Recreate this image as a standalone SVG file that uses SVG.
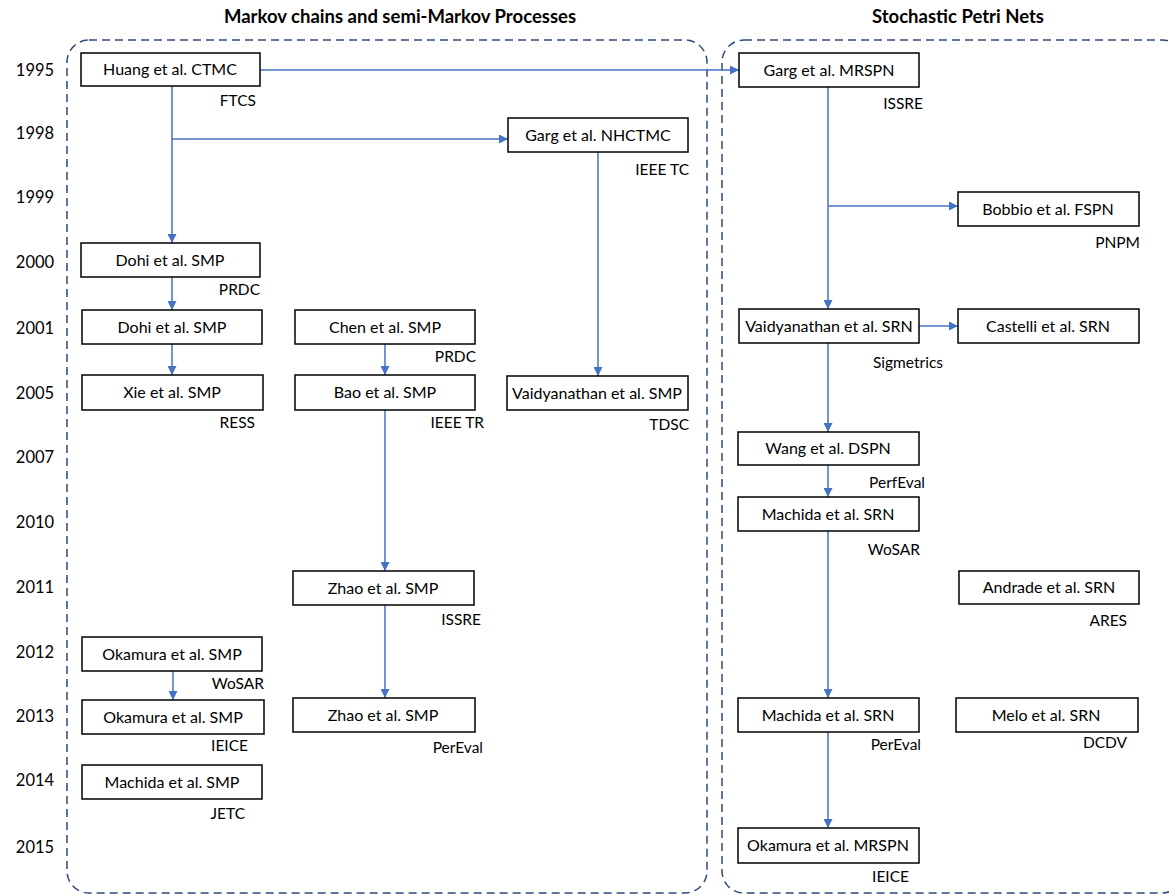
<svg xmlns="http://www.w3.org/2000/svg" width="1169" height="895" viewBox="0 0 1169 895">
  <style>
    .frame { fill: none; stroke: #2F4A7A; stroke-width: 1.5; stroke-dasharray: 8 5; }
    .title { font-family: Lato, "Liberation Sans", sans-serif; font-size: 18.5px; font-weight: bold; fill: #000; text-anchor: middle; }
    .year { font-family: Lato, "Liberation Sans", sans-serif; font-size: 16.5px; fill: #000; text-anchor: middle; }
    .box { fill: #fff; stroke: #000; stroke-width: 1.5; }
    .label { font-family: Lato, "Liberation Sans", sans-serif; font-size: 16px; fill: #000; text-anchor: middle; }
    .venue { font-family: Lato, "Liberation Sans", sans-serif; font-size: 15.5px; fill: #000; text-anchor: end; }
    .edge { fill: none; stroke: #4472C4; stroke-width: 1.5; }
    .edge-arrow { marker-end: url(#arrow); }
  </style>
  <defs>
    <marker id="arrow" viewBox="0 0 10 10" refX="10" refY="5" markerWidth="9" markerHeight="9" markerUnits="userSpaceOnUse" orient="auto">
      <path d="M0,0 L10,5 L0,10 z" fill="#4472C4"/>
    </marker>
  </defs>

  <rect width="1169" height="895" fill="#fff"/>

  <!-- Section headings -->
  <text class="title" x="400" y="23">Markov chains and semi-Markov Processes</text>
  <text class="title" x="958" y="23">Stochastic Petri Nets</text>

  <!-- Section frames -->
  <rect class="frame" x="67" y="40" width="640" height="853" rx="22" ry="22"/>
  <rect class="frame" x="722" y="40" width="462" height="853" rx="22" ry="22"/>

  <!-- Year axis -->
  <g id="years">
    <text class="year" x="35" y="76">1995</text>
    <text class="year" x="35" y="139">1998</text>
    <text class="year" x="35" y="203">1999</text>
    <text class="year" x="35" y="268">2000</text>
    <text class="year" x="35" y="334">2001</text>
    <text class="year" x="35" y="399">2005</text>
    <text class="year" x="35" y="463">2007</text>
    <text class="year" x="35" y="528">2010</text>
    <text class="year" x="35" y="593">2011</text>
    <text class="year" x="35" y="658">2012</text>
    <text class="year" x="35" y="722">2013</text>
    <text class="year" x="35" y="786">2014</text>
    <text class="year" x="35" y="853">2015</text>
  </g>

  <!-- Connectors -->
  <g id="connectors">
    <path class="edge edge-arrow" d="M260,70 H739"/>
    <path class="edge edge-arrow" d="M172,86 V243"/>
    <path class="edge edge-arrow" d="M172,139 H508"/>
    <path class="edge edge-arrow" d="M598,152 V376"/>
    <path class="edge edge-arrow" d="M172,277 V310"/>
    <path class="edge edge-arrow" d="M172,344 V375"/>
    <path class="edge edge-arrow" d="M385,344 V375"/>
    <path class="edge edge-arrow" d="M385,410 V571"/>
    <path class="edge edge-arrow" d="M385,605 V698"/>
    <path class="edge edge-arrow" d="M173,671 V700"/>
    <path class="edge edge-arrow" d="M828,87 V309"/>
    <path class="edge edge-arrow" d="M828,206 H958"/>
    <path class="edge edge-arrow" d="M919,326 H958"/>
    <path class="edge edge-arrow" d="M828,343 V432"/>
    <path class="edge edge-arrow" d="M828,465 V497"/>
    <path class="edge edge-arrow" d="M828,531 V698"/>
    <path class="edge edge-arrow" d="M828,732 V828"/>
  </g>

  <!-- Markov chain / semi-Markov nodes -->
  <g id="huang-ctmc">
    <rect class="box" x="81" y="53" width="179" height="33"/>
    <text class="label" x="170" y="75">Huang et al. CTMC</text>
    <text class="venue" x="256" y="106">FTCS</text>
  </g>
  <g id="garg-nhctmc">
    <rect class="box" x="508" y="118" width="180" height="34"/>
    <text class="label" x="598" y="141">Garg et al. NHCTMC</text>
    <text class="venue" x="689" y="175">IEEE TC</text>
  </g>
  <g id="dohi-smp-2000">
    <rect class="box" x="81" y="243" width="179" height="34"/>
    <text class="label" x="170" y="266">Dohi et al. SMP</text>
    <text class="venue" x="260" y="295">PRDC</text>
  </g>
  <g id="dohi-smp-2001">
    <rect class="box" x="82" y="310" width="180" height="34"/>
    <text class="label" x="172" y="333">Dohi et al. SMP</text>
  </g>
  <g id="chen-smp">
    <rect class="box" x="295" y="310" width="180" height="34"/>
    <text class="label" x="385" y="333">Chen et al. SMP</text>
    <text class="venue" x="476" y="362">PRDC</text>
  </g>
  <g id="xie-smp">
    <rect class="box" x="82" y="375" width="181" height="35"/>
    <text class="label" x="172" y="398">Xie et al. SMP</text>
    <text class="venue" x="255" y="428">RESS</text>
  </g>
  <g id="bao-smp">
    <rect class="box" x="295" y="375" width="180" height="35"/>
    <text class="label" x="385" y="398">Bao et al. SMP</text>
    <text class="venue" x="484" y="428">IEEE TR</text>
  </g>
  <g id="vaidyanathan-smp">
    <rect class="box" x="507" y="376" width="181" height="34"/>
    <text class="label" x="597" y="399">Vaidyanathan et al. SMP</text>
    <text class="venue" x="689" y="430">TDSC</text>
  </g>
  <g id="zhao-smp-2011">
    <rect class="box" x="293" y="571" width="181" height="34"/>
    <text class="label" x="383" y="594">Zhao et al. SMP</text>
    <text class="venue" x="481" y="625">ISSRE</text>
  </g>
  <g id="okamura-smp-2012">
    <rect class="box" x="82" y="637" width="180" height="34"/>
    <text class="label" x="172" y="660">Okamura et al. SMP</text>
    <text class="venue" x="264" y="689">WoSAR</text>
  </g>
  <g id="okamura-smp-2013">
    <rect class="box" x="82" y="700" width="182" height="34"/>
    <text class="label" x="173" y="723">Okamura et al. SMP</text>
    <text class="venue" x="248" y="751">IEICE</text>
  </g>
  <g id="zhao-smp-2013">
    <rect class="box" x="293" y="698" width="182" height="34"/>
    <text class="label" x="383" y="721">Zhao et al. SMP</text>
    <text class="venue" x="483" y="753">PerEval</text>
  </g>
  <g id="machida-smp">
    <rect class="box" x="82" y="765" width="180" height="34"/>
    <text class="label" x="172" y="788">Machida et al. SMP</text>
    <text class="venue" x="245" y="819">JETC</text>
  </g>

  <!-- Stochastic Petri net nodes -->
  <g id="garg-mrspn">
    <rect class="box" x="739" y="53" width="180" height="34"/>
    <text class="label" x="829" y="76">Garg et al. MRSPN</text>
    <text class="venue" x="923" y="109">ISSRE</text>
  </g>
  <g id="bobbio-fspn">
    <rect class="box" x="958" y="192" width="181" height="34"/>
    <text class="label" x="1048" y="215">Bobbio et al. FSPN</text>
    <text class="venue" x="1140" y="248">PNPM</text>
  </g>
  <g id="vaidyanathan-srn">
    <rect class="box" x="739" y="309" width="180" height="34"/>
    <text class="label" x="829" y="332">Vaidyanathan et al. SRN</text>
    <text class="venue" x="943" y="368">Sigmetrics</text>
  </g>
  <g id="castelli-srn">
    <rect class="box" x="958" y="309" width="181" height="34"/>
    <text class="label" x="1048" y="332">Castelli et al. SRN</text>
  </g>
  <g id="wang-dspn">
    <rect class="box" x="738" y="432" width="181" height="33"/>
    <text class="label" x="828" y="454">Wang et al. DSPN</text>
    <text class="venue" x="925" y="488">PerfEval</text>
  </g>
  <g id="machida-srn-2010">
    <rect class="box" x="738" y="497" width="181" height="34"/>
    <text class="label" x="828" y="520">Machida et al. SRN</text>
    <text class="venue" x="920" y="555">WoSAR</text>
  </g>
  <g id="andrade-srn">
    <rect class="box" x="959" y="571" width="180" height="33"/>
    <text class="label" x="1049" y="593">Andrade et al. SRN</text>
    <text class="venue" x="1127" y="626">ARES</text>
  </g>
  <g id="machida-srn-2013">
    <rect class="box" x="738" y="698" width="181" height="34"/>
    <text class="label" x="828" y="721">Machida et al. SRN</text>
    <text class="venue" x="921" y="750">PerEval</text>
  </g>
  <g id="melo-srn">
    <rect class="box" x="956" y="698" width="182" height="34"/>
    <text class="label" x="1046" y="721">Melo et al. SRN</text>
    <text class="venue" x="1127" y="748">DCDV</text>
  </g>
  <g id="okamura-mrspn">
    <rect class="box" x="738" y="828" width="181" height="35"/>
    <text class="label" x="828" y="851">Okamura et al. MRSPN</text>
    <text class="venue" x="909" y="882">IEICE</text>
  </g>
</svg>
